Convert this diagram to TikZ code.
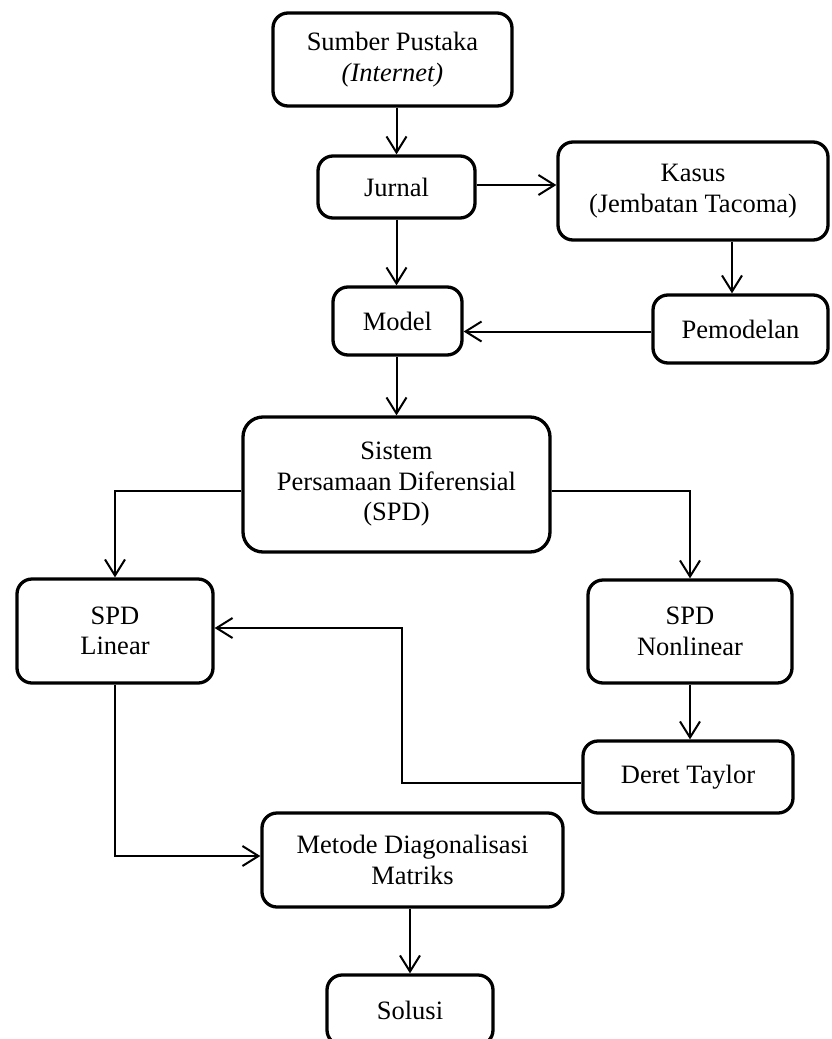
\documentclass[tikz,border=0pt]{standalone}
\usepackage{fontspec}
\setmainfont{Liberation Serif}
\usetikzlibrary{arrows.meta,calc}
\tikzset{
  box/.style={draw, line width=3.3pt, rounded corners=15pt, align=center, inner sep=0pt,
    font=\fontsize{26.5}{30.5}\selectfont},
  arr/.style={line width=2pt, -{Straight Barb[length=16pt,width=20pt,line width=2pt]}},
  ln/.style={line width=2pt}
}
\begin{document}
\begin{tikzpicture}[x=1pt,y=-1pt]
\useasboundingbox (0,0) rectangle (831,1039);
\node[box, minimum width=239pt, minimum height=93pt] (sumber) at (392.5,59.5) {Sumber Pustaka\\\textit{(Internet)}};
\node[box, minimum width=157pt, minimum height=62pt] (jurnal) at (396.5,187) {Jurnal};
\node[box, minimum width=270pt, minimum height=98pt] (kasus) at (693,191) {Kasus\\(Jembatan Tacoma)};
\node[box, minimum width=129pt, minimum height=68pt] (model) at (397.5,321) {Model};
\node[box, minimum width=175pt, minimum height=68pt] (pemodelan) at (740.5,329) {Pemodelan};
\node[box, rounded corners=20pt, minimum width=307pt, minimum height=135pt] (spd) at (396.5,484.5) {Sistem\\Persamaan Diferensial\\(SPD)};
\node[box, minimum width=196pt, minimum height=104pt] (linear) at (115,631) {SPD\\Linear};
\node[box, minimum width=204pt, minimum height=103pt] (nonlinear) at (690,631.5) {SPD\\Nonlinear};
\node[box, minimum width=210pt, minimum height=72pt] (taylor) at (688,777) {Deret Taylor};
\node[box, minimum width=301pt, minimum height=94pt] (metode) at (412.5,860) {Metode Diagonalisasi\\Matriks};
\node[box, minimum width=166pt, minimum height=70pt] (solusi) at (410,1010) {Solusi};
\coordinate (tb) at (402,700);

\draw[arr] (sumber.south -| jurnal.north) -- (jurnal.north);
\draw[arr] ([yshift=2pt]jurnal.east) -- ([yshift=2pt]jurnal.east -| kasus.west);
\draw[arr] (jurnal.south) -- (jurnal.south |- model.north);
\draw[arr] ([xshift=39pt]kasus.south) -- ([xshift=39pt]kasus.south |- pemodelan.north);
\draw[arr] ([yshift=-2.5pt]pemodelan.west) -- ([yshift=-2.5pt]pemodelan.west -| model.east);
\draw[arr] (model.south -| spd.north) -- (spd.north);
\draw[arr] ([yshift=-6.5pt]spd.west) -| (linear.north);
\draw[arr] ([yshift=-6.5pt]spd.east) -| (nonlinear.north);
\draw[arr] (nonlinear.south) -- (nonlinear.south |- taylor.north);
\draw[arr] ([yshift=-6pt]taylor.west) -- ([yshift=-6pt]taylor.west -| tb) |- ([yshift=3pt]linear.east);
\draw[arr] (linear.south) |- ([yshift=4pt]metode.west);
\draw[arr] (metode.south -| solusi.north) -- (solusi.north);
\end{tikzpicture}
\end{document}
